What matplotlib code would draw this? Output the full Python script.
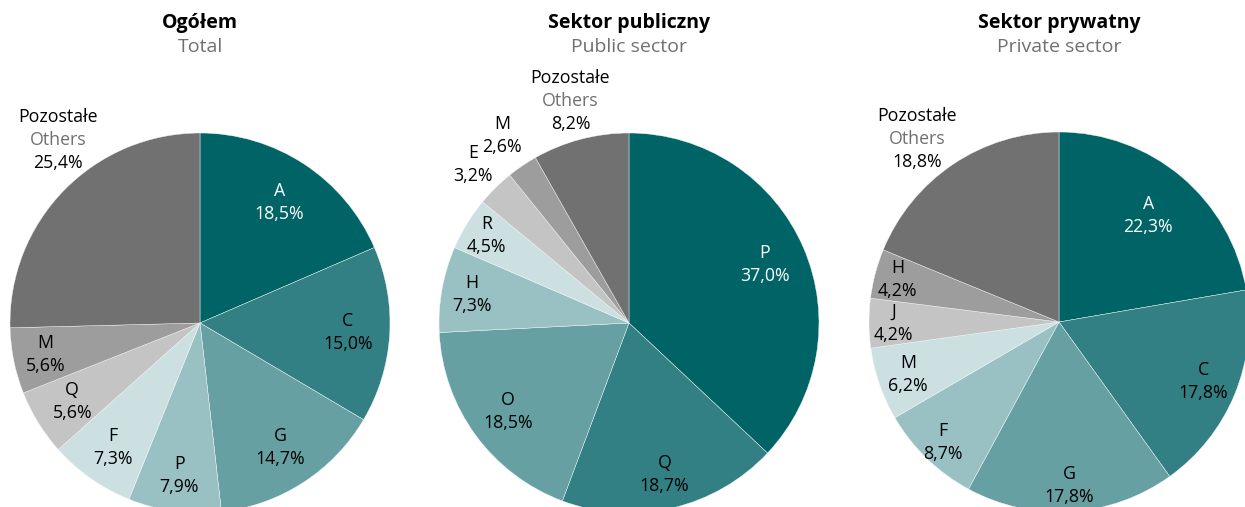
import matplotlib
matplotlib.use("Agg")
import matplotlib.pyplot as plt
import numpy as np

plt.rcParams['font.family'] = ['Open Sans', 'DejaVu Sans']

# ---- data ----
titles_pl = ["Ogółem", "Sektor publiczny", "Sektor prywatny"]
titles_en = ["Total", "Public sector", "Private sector"]

total_labels = ["A", "C", "G", "P", "F", "Q", "M", "Pozostałe"]
total_values = [18.5, 15.0, 14.7, 7.9, 7.3, 5.6, 5.6, 25.4]

public_labels = ["P", "Q", "O", "H", "R", "E", "M", "Pozostałe"]
public_values = [37.0, 18.7, 18.5, 7.3, 4.5, 3.2, 2.6, 8.2]

private_labels = ["A", "C", "G", "F", "M", "J", "H", "Pozostałe"]
private_values = [22.3, 17.8, 17.8, 8.7, 6.2, 4.2, 4.2, 18.8]

others_en = "Others"

# ---- style ----
colors = ["#006466", "#338084", "#66a0a3", "#99c1c3", "#cce0e2",
          "#c4c4c4", "#9c9d9c", "#717171"]
text_colors = ["white"] + ["black"] * 7
gray_text = "#707070"

W, H = 1245, 507
fig = plt.figure(figsize=(W / 100, H / 100), dpi=100)
ax = fig.add_axes([0, 0, 1, 1])

centers = [(200, 323), (629, 323), (1059, 322)]
R = 190
LINE = 23
FS = 12.8
TFS = 14

# label distance factors (fraction of radius) per slice
dists = [
    [0.76, 0.78, 0.78, 0.81, 0.80, 0.79, 0.83, 1.22],
    [0.78, 0.82, 0.79, 0.84, 0.88, 1.17, 1.19, 1.21],
    [0.73, 0.82, 0.86, 0.88, 0.84, 0.87, 0.88, 1.22],
]
# angle tweak (degrees, clockwise positive) for outer "Others" labels
angle_tweak = [
    [0, 0, 0, 0, 0, 0, 0, 8],
    [0, 0, 0, 0, 0, 0, 0, 0],
    [0, 0, 0, 0, 0, 0, 0, -4],
]

def fmt(v):
    return f"{v:.1f}%".replace(".", ",")

datasets = [(total_labels, total_values), (public_labels, public_values),
            (private_labels, private_values)]

for i, (labels, values) in enumerate(datasets):
    cx, cy = centers[i]
    cy_d = H - cy
    ax.pie(values, colors=colors, startangle=90, counterclock=False,
           center=(cx, cy_d), radius=R, frame=True,
           wedgeprops=dict(edgecolor='#f4f8f8', linewidth=0.3))
    total = sum(values)
    cum = 0.0
    for j, (lab, v) in enumerate(zip(labels, values)):
        mid = (cum + v / 2) / total * 360.0 + angle_tweak[i][j]
        cum += v
        th = np.deg2rad(mid)
        d = dists[i][j] * R
        x = cx + d * np.sin(th)
        y = cy - d * np.cos(th)  # image coords
        tc = text_colors[j]
        if lab == "Pozostałe":
            lines = [(lab, "black"), (others_en, gray_text), (fmt(v), "black")]
            offs = [-LINE, 0, LINE]
        else:
            lines = [(lab, tc), (fmt(v), tc)]
            offs = [-LINE / 2, LINE / 2]
        for (t, c), o in zip(lines, offs):
            ax.text(x, H - (y + o), t, ha='center', va='center',
                    fontsize=FS, color=c)
    # titles
    ax.text(cx, H - 23, titles_pl[i], ha='center', va='center',
            fontsize=TFS, fontweight='bold', color='black')
    ax.text(cx, H - 47, titles_en[i], ha='center', va='center',
            fontsize=TFS, color=gray_text)

ax.set_xlim(0, W)
ax.set_ylim(0, H)
ax.set_aspect('equal')
ax.axis('off')
fig.savefig("out.png", dpi=100)
